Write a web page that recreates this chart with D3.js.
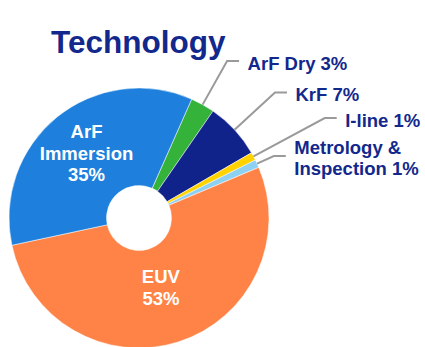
<!DOCTYPE html>
<html>
<head>
<meta charset="utf-8">
<script src="https://cdn.jsdelivr.net/npm/d3@7"></script>
<style>
  html, body { margin: 0; padding: 0; background: #ffffff; }
  svg { display: block; }
  text { font-family: "Liberation Sans", Arial, sans-serif; font-weight: bold; }
</style>
</head>
<body>
<svg id="chart" width="425" height="347"></svg>
<script>
// Lithography spend split by technology (percent)
const categories = ["ArF Dry", "KrF", "I-line", "Metrology & Inspection", "EUV", "ArF Immersion"];
const shares     = [3, 7, 1, 1, 53, 35];
const colors     = ["#35b23a", "#10238a", "#ffd200", "#8dd0f2", "#ff8346", "#1e80dc"];
const chartTitle = "Technology";

// Which slices carry an outside callout vs. a label inside the ring
const outsideNames = ["ArF Dry", "KrF", "I-line", "Metrology & Inspection"];
const labelLines = {
  "ArF Dry": ["ArF Dry 3%"],
  "KrF": ["KrF 7%"],
  "I-line": ["I-line 1%"],
  "Metrology & Inspection": ["Metrology &", "Inspection 1%"],
  "EUV": ["EUV", "53%"],
  "ArF Immersion": ["ArF", "Immersion", "35%"]
};

// Layout
const W = 425, H = 347;
const cx = 139, cy = 218;
const R = 130, r0 = 32.5;
const startDeg = 23.9;
const calloutRowY = { "ArF Dry": 61, "KrF": 92.5, "I-line": 118, "Metrology & Inspection": 156 };
const insideRadius = { "EUV": 0.56, "ArF Immersion": 0.64 };
const navy = "#13288c";

const svg = d3.select("#chart");

svg.append("text")
  .attr("x", 51)
  .attr("y", 53)
  .attr("fill", navy)
  .attr("font-size", 31.5)
  .text(chartTitle);

const rows = categories.map((c, i) => ({ name: c, value: shares[i], color: colors[i] }));

const start = startDeg * Math.PI / 180;
const pie = d3.pie()
  .sort(null)
  .value(d => d.value)
  .startAngle(start)
  .endAngle(start + 2 * Math.PI);

const arcs = pie(rows);
const arc = d3.arc().innerRadius(r0).outerRadius(R);

const g = svg.append("g").attr("transform", `translate(${cx},${cy})`);

g.selectAll("path.slice")
  .data(arcs)
  .join("path")
  .attr("class", "slice")
  .attr("d", arc)
  .attr("fill", d => d.data.color)
  .attr("stroke", "#ffffff")
  .attr("stroke-width", 0.5);

// Callouts: radial leader from the rim up to the label row, then a short horizontal run
const callouts = arcs.filter(d => outsideNames.includes(d.data.name));
callouts.forEach(d => {
  const a = (d.startAngle + d.endAngle) / 2;
  const sx = Math.sin(a), sy = -Math.cos(a);
  const rowY = calloutRowY[d.data.name] - cy;
  const t = rowY / sy;                  // distance along the radial direction
  const p0 = [sx * R, sy * R];
  const p1 = [sx * t, rowY];
  const p2 = [p1[0] + 12, rowY];
  g.append("path")
    .attr("d", d3.line()([p0, p1, p2]))
    .attr("fill", "none")
    .attr("stroke", "#9a9a9a")
    .attr("stroke-width", 2);

  const lines = labelLines[d.data.name];
  const lh = 21;
  const firstBase = rowY + 8.5 - (lines.length - 1) * lh / 2 - (lines.length > 1 ? 0.5 : 0);
  const txt = g.append("text")
    .attr("fill", navy)
    .attr("font-size", 18.5)
    .attr("text-anchor", "start");
  lines.forEach((ln, i) => {
    txt.append("tspan")
      .attr("x", p2[0] + 8.5)
      .attr("y", firstBase + i * lh)
      .text(ln);
  });
});

// Labels inside the two large slices
arcs.filter(d => !outsideNames.includes(d.data.name)).forEach(d => {
  const lr = R * insideRadius[d.data.name];
  const [x, y] = d3.arc().innerRadius(lr).outerRadius(lr).centroid(d);
  const lines = labelLines[d.data.name];
  const lh = 21.5;
  const txt = g.append("text")
    .attr("fill", "#ffffff")
    .attr("font-size", 18.5)
    .attr("text-anchor", "middle");
  lines.forEach((ln, i) => {
    txt.append("tspan")
      .attr("x", x)
      .attr("y", y + 6.5 + (i - (lines.length - 1) / 2) * lh)
      .text(ln);
  });
});
</script>
</body>
</html>
